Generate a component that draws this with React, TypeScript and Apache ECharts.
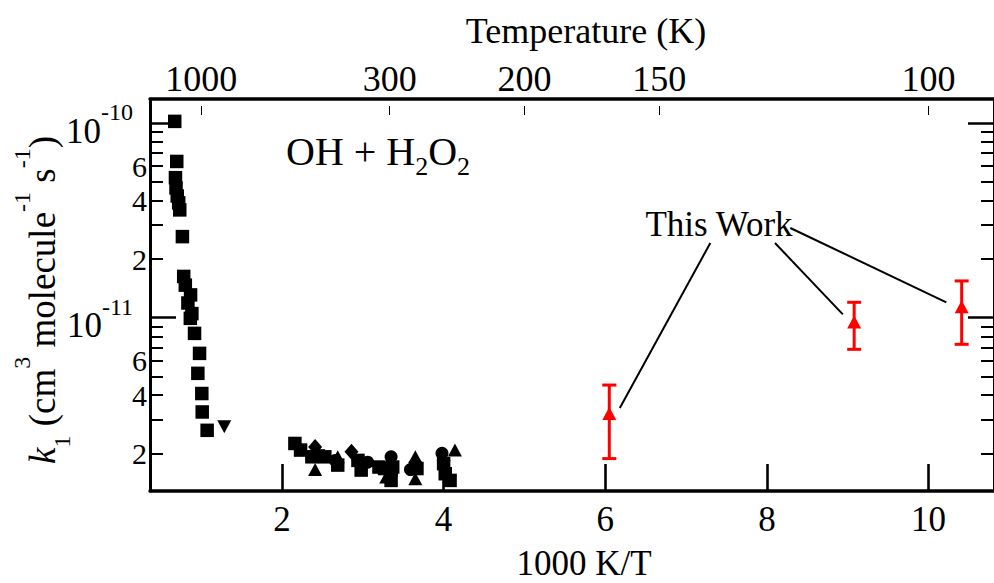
import React, { useEffect, useRef } from "react";
import * as echarts from "echarts";

const FONT = "Liberation Serif, Times New Roman, Times, serif";

// axis ticks / labels
const bottomTicks = [2, 4, 6, 8, 10];
const topTemperatures = [1000, 300, 200, 150, 100];
const topTickPositions = [1, 3.3333333, 5, 6.6666667, 10];
const yLabelValues = [2e-12, 4e-12, 6e-12, 1e-11, 2e-11, 4e-11, 6e-11, 1e-10];
const yMajorTicks = [1e-11, 1e-10];
const yMinorTicks = [
  2e-12, 3e-12, 4e-12, 5e-12, 6e-12, 7e-12, 8e-12, 9e-12,
  2e-11, 3e-11, 4e-11, 5e-11, 6e-11, 7e-11, 8e-11, 9e-11,
];

// literature data (1000 K/T, k1)
const squares: [number, number][] = [
  [0.673, 1.02e-10], [0.698, 6.35e-11], [0.682, 5.24e-11], [0.689, 4.64e-11],
  [0.704, 4.22e-11], [0.722, 3.89e-11], [0.735, 3.58e-11], [0.768, 2.61e-11],
  [0.784, 1.63e-11], [0.804, 1.47e-11], [0.869, 1.31e-11], [0.836, 1.19e-11],
  [0.885, 1.05e-11], [0.866, 9.93e-12], [0.918, 8.31e-12], [0.98, 6.56e-12],
  [0.959, 5.18e-12], [1.008, 4.08e-12], [1.013, 3.28e-12], [1.074, 2.64e-12],
  [2.16, 2.26e-12], [2.23, 2.09e-12], [2.37, 1.93e-12], [2.45, 1.95e-12],
  [2.53, 1.93e-12], [2.69, 1.75e-12], [2.94, 1.85e-12], [2.98, 1.65e-12],
  [3.20, 1.71e-12], [3.27, 1.68e-12], [3.37, 1.71e-12], [3.35, 1.65e-12],
  [3.35, 1.46e-12], [3.67, 1.68e-12], [4.0, 1.78e-12], [4.02, 1.58e-12],
  [4.08, 1.46e-12],
];
const trianglesDown: [number, number][] = [[1.286, 2.75e-12]];
const trianglesUp: [number, number][] = [
  [2.41, 1.66e-12], [2.69, 1.93e-12], [3.29, 1.52e-12], [3.65, 1.93e-12],
  [3.65, 1.49e-12], [4.14, 2.09e-12],
];
const diamonds: [number, number][] = [
  [2.41, 2.17e-12], [2.86, 2.05e-12], [3.65, 1.81e-12], [4.0, 1.85e-12],
];
const circles: [number, number][] = [
  [2.66, 1.85e-12], [3.06, 1.81e-12], [3.35, 1.93e-12], [3.59, 1.66e-12],
  [3.98, 2.01e-12],
];

// This work
const thisWorkX = [6.05, 9.08, 10.41];
const thisWorkK = [3.22e-12, 9.5e-12, 1.14e-11];
const thisWorkLow = [1.89e-12, 6.88e-12, 7.3e-12];
const thisWorkHigh = [4.51e-12, 1.2e-11, 1.545e-11];

// leader lines from the "This Work" label (data coordinates)
const leaderLines: [[number, number], [number, number]][] = [
  [[7.3, 2.42e-11], [6.18, 3.44e-12]],
  [[8.1, 2.42e-11], [8.94, 1.04e-11]],
  [[8.29, 2.89e-11], [10.22, 1.2e-11]],
];

const X_MIN = 0.367;
const X_MAX = 10.81;
const Y_MIN = 1.288e-12;
const Y_MAX = 1.329e-10;

export default function App() {
  const ref = useRef<HTMLDivElement>(null);

  useEffect(() => {
    if (!ref.current) return;
    const chart = echarts.init(ref.current, null, { renderer: "svg" });

    const black = "#000";
    const yBase = {
      type: "log" as const,
      logBase: 10,
      min: Y_MIN,
      max: Y_MAX,
      splitLine: { show: false },
      axisLabel: { show: false },
    };
    const mark = { color: black, opacity: 1 };

    const option: any = {
      animation: false,
      backgroundColor: "#fff",
      grid: { left: 150, top: 99, right: -9, bottom: 92, containLabel: false },
      xAxis: [
        {
          type: "value",
          position: "bottom",
          min: X_MIN,
          max: X_MAX,
          splitLine: { show: false },
          axisLine: { show: true, onZero: false, lineStyle: { color: black, width: 3.5 } },
          axisTick: {
            show: true,
            inside: true,
            length: 27,
            customValues: bottomTicks,
            lineStyle: { color: black, width: 2.6 },
          },
          axisLabel: {
            customValues: bottomTicks,
            color: black,
            fontFamily: FONT,
            fontSize: 35,
            margin: 11,
          },
        },
        {
          type: "value",
          position: "top",
          min: X_MIN,
          max: X_MAX,
          splitLine: { show: false },
          axisLine: { show: true, onZero: false, lineStyle: { color: black, width: 3.5 } },
          axisTick: { show: false },
          axisLabel: {
            customValues: topTickPositions,
            formatter: (v: number) => {
              const i = topTickPositions.findIndex((p) => Math.abs(p - v) < 1e-3);
              return i >= 0 ? String(topTemperatures[i]) : "";
            },
            color: black,
            fontFamily: FONT,
            fontSize: 36,
            margin: 2,
          },
        },
        {
          type: "value",
          position: "top",
          offset: -7,
          min: X_MIN,
          max: X_MAX,
          splitLine: { show: false },
          axisLine: { show: false },
          axisTick: {
            show: true,
            inside: true,
            length: 9,
            customValues: topTickPositions,
            lineStyle: { color: black, width: 1 },
          },
          axisLabel: { show: false },
        },
      ],
      yAxis: [
        {
          ...yBase,
          position: "left",
          axisLine: { show: true, onZero: false, lineStyle: { color: black, width: 3 } },
          axisTick: {
            show: true,
            inside: true,
            length: 26,
            customValues: yMajorTicks,
            lineStyle: { color: black, width: 2.5 },
          },
          axisLabel: {
            show: true,
            customValues: yLabelValues,
            margin: 3,
            color: black,
            fontFamily: FONT,
            formatter: (v: number) => {
              const e = Math.round(Math.log10(v));
              if (Math.abs(v - Math.pow(10, e)) / v < 1e-6) return `{m|10}{e|${e}}`;
              const m = Math.round(v / Math.pow(10, Math.floor(Math.log10(v) + 1e-9)));
              return `{d|${m}}`;
            },
            rich: {
              m: { fontSize: 35, fontFamily: FONT, color: black, lineHeight: 26, padding: [16, 0, 0, 0] },
              e: { fontSize: 24, fontFamily: FONT, color: black, lineHeight: 18, padding: [0, 14, 22, 0] },
              d: { fontSize: 30, fontFamily: FONT, color: black, lineHeight: 26 },
            },
          },
        },
        {
          ...yBase,
          position: "left",
          axisLine: { show: false },
          axisTick: {
            show: true,
            inside: true,
            length: 13,
            customValues: yMinorTicks,
            lineStyle: { color: black, width: 2 },
          },
        },
        {
          ...yBase,
          position: "right",
          axisLine: { show: true, onZero: false, lineStyle: { color: black, width: 3 } },
          axisTick: {
            show: true,
            inside: true,
            length: 26,
            customValues: yMajorTicks,
            lineStyle: { color: black, width: 2.5 },
          },
        },
        {
          ...yBase,
          position: "right",
          axisLine: { show: false },
          axisTick: {
            show: true,
            inside: true,
            length: 13,
            customValues: yMinorTicks,
            lineStyle: { color: black, width: 2 },
          },
        },
      ],
      series: [
        {
          type: "scatter",
          name: "squares",
          data: squares,
          symbol: "rect",
          symbolSize: 13.5,
          itemStyle: mark,
          z: 3,
        },
        {
          type: "scatter",
          name: "down",
          data: trianglesDown,
          symbol: "triangle",
          symbolRotate: 180,
          symbolSize: [14, 13],
          itemStyle: mark,
          z: 3,
        },
        {
          type: "scatter",
          name: "up",
          data: trianglesUp,
          symbol: "triangle",
          symbolSize: [14, 13],
          itemStyle: mark,
          z: 3,
        },
        {
          type: "scatter",
          name: "diamonds",
          data: diamonds,
          symbol: "diamond",
          symbolSize: [14, 16],
          itemStyle: mark,
          z: 3,
        },
        {
          type: "scatter",
          name: "circles",
          data: circles,
          symbol: "circle",
          symbolSize: 13,
          itemStyle: mark,
          z: 3,
        },
        {
          type: "custom",
          name: "errors",
          data: thisWorkX.map((x, i) => [x, thisWorkLow[i], thisWorkHigh[i]]),
          encode: { x: 0, y: [1, 2] },
          z: 4,
          renderItem: (_p: any, api: any) => {
            const x = api.value(0);
            const lo = api.coord([x, api.value(1)]);
            const hi = api.coord([x, api.value(2)]);
            const hw = 7;
            const style = { stroke: "#ff0000", lineWidth: 3 };
            return {
              type: "group",
              children: [
                { type: "line", shape: { x1: lo[0], y1: lo[1], x2: hi[0], y2: hi[1] }, style },
                { type: "line", shape: { x1: lo[0] - hw, y1: lo[1], x2: lo[0] + hw, y2: lo[1] }, style },
                { type: "line", shape: { x1: hi[0] - hw, y1: hi[1], x2: hi[0] + hw, y2: hi[1] }, style },
              ],
            };
          },
        },
        {
          type: "scatter",
          name: "This Work",
          data: thisWorkX.map((x, i) => [x, thisWorkK[i]]),
          symbol: "triangle",
          symbolSize: [14, 13],
          itemStyle: { color: "#ff0000", opacity: 1 },
          z: 5,
          markLine: {
            silent: true,
            symbol: ["none", "none"],
            label: { show: false },
            lineStyle: { color: black, width: 2, type: "solid", opacity: 1 },
            data: leaderLines.map(([a, b]) => [{ coord: a }, { coord: b }]),
          },
        },
      ],
      graphic: [
        {
          type: "text",
          x: 586,
          y: 31,
          style: {
            text: "Temperature (K)",
            font: `36px ${FONT}`,
            fill: black,
            align: "center",
            verticalAlign: "middle",
          },
        },
        {
          type: "text",
          x: 584,
          y: 563.5,
          style: {
            text: "1000 K/T",
            font: `35px ${FONT}`,
            fill: black,
            align: "center",
            verticalAlign: "middle",
          },
        },
        {
          type: "text",
          x: 719,
          y: 224,
          style: {
            text: "This Work",
            font: `35px ${FONT}`,
            fill: black,
            align: "center",
            verticalAlign: "middle",
          },
        },
        {
          type: "text",
          x: 286,
          y: 151,
          style: {
            text: "{n|OH + H}{s|2}{n|O}{s|2}",
            align: "left",
            verticalAlign: "middle",
            rich: {
              n: { fontSize: 40, fontFamily: FONT, fill: black },
              s: { fontSize: 26, fontFamily: FONT, fill: black, padding: [30, 0, 0, 0] },
            },
          },
        },
        {
          type: "text",
          x: 42,
          y: 300,
          rotation: Math.PI / 2,
          style: {
            text: "{k|k}{sb|1}{n| (cm}{sp|3}{n| molecule}{sp|-1}{n| s}{sp|-1}{n|)}",
            align: "center",
            verticalAlign: "middle",
            rich: {
              k: { fontSize: 37, fontFamily: FONT, fontStyle: "italic", fill: black },
              n: { fontSize: 37, fontFamily: FONT, fill: black },
              sb: { fontSize: 24, fontFamily: FONT, fill: black, padding: [40, 0, 0, 0] },
              sp: { fontSize: 24, fontFamily: FONT, fill: black, padding: [0, 0, 40, 0] },
            },
          },
        },
      ],
    };

    chart.setOption(option);
    return () => chart.dispose();
  }, []);

  return (
    <div
      ref={ref}
      style={{ position: "fixed", left: 0, top: 0, width: 994, height: 583, background: "#fff" }}
    />
  );
}
